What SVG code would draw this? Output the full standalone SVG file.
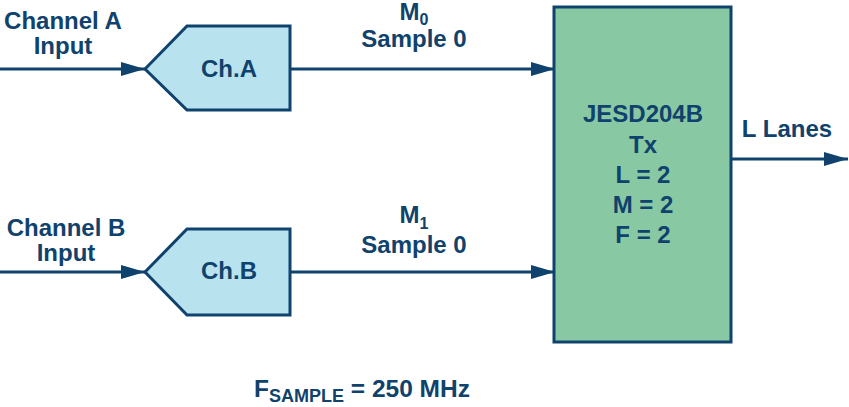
<svg xmlns="http://www.w3.org/2000/svg" width="849" height="407" viewBox="0 0 849 407">
<defs>
<style>
.t{font-family:"Liberation Sans",Arial,sans-serif;font-weight:bold;font-size:24px;fill:#0f426c;text-anchor:middle}
.sub{font-size:16px}
.sub2{font-size:18px}
.ln{stroke:#0f426c;stroke-width:3;fill:none}
.adc{fill:#b9e2ef;stroke:#0f426c;stroke-width:3}
.jesd{fill:#88c9a3;stroke:#0f426c;stroke-width:3}
</style>
<marker id="ah" viewBox="0 0 24 14" refX="24" refY="7" markerWidth="24" markerHeight="14" markerUnits="userSpaceOnUse" orient="auto">
<path d="M0,0 L24,7 L0,14 Z" fill="#0f426c"/>
</marker>
</defs>
<g id="connectors">
<line class="ln" x1="0" y1="69" x2="145" y2="69" marker-end="url(#ah)"/>
<line class="ln" x1="290" y1="69" x2="555" y2="69" marker-end="url(#ah)"/>
<line class="ln" x1="0" y1="272" x2="145" y2="272" marker-end="url(#ah)"/>
<line class="ln" x1="290" y1="272" x2="555" y2="272" marker-end="url(#ah)"/>
<line class="ln" x1="731" y1="159" x2="848" y2="159" marker-end="url(#ah)"/>
</g>
<g id="chA">
<path class="adc" d="M145,69 L187,26 L290,26 L290,110 L187,110 Z"/>
<text class="t" x="229" y="77">Ch.A</text>
</g>
<g id="chB">
<path class="adc" d="M145,272 L187,229 L290,229 L290,315 L187,315 Z"/>
<text class="t" x="229" y="279">Ch.B</text>
</g>
<g id="jesd">
<rect class="jesd" x="554" y="7" width="177" height="335"/>
<text class="t" x="643" y="122">JESD204B</text>
<text class="t" x="643" y="153">Tx</text>
<text class="t" x="643" y="183">L = 2</text>
<text class="t" x="643" y="213">M = 2</text>
<text class="t" x="643" y="243">F = 2</text>
</g>
<g id="labels">
<text class="t" x="63" y="29">Channel A</text>
<text class="t" x="63" y="54">Input</text>
<text class="t" x="66" y="236">Channel B</text>
<text class="t" x="66" y="261">Input</text>
<text class="t" x="414" y="20">M<tspan class="sub" dy="5">0</tspan></text>
<text class="t" x="414" y="47">Sample 0</text>
<text class="t" x="414" y="223">M<tspan class="sub" dy="6">1</tspan></text>
<text class="t" x="414" y="253">Sample 0</text>
<text class="t" x="787" y="137">L Lanes</text>
<text class="t" x="362" y="397" style="font-size:24.5px">F<tspan class="sub2" dy="5">SAMPLE</tspan><tspan dy="-5"> = 250 MHz</tspan></text>
</g>
</svg>
